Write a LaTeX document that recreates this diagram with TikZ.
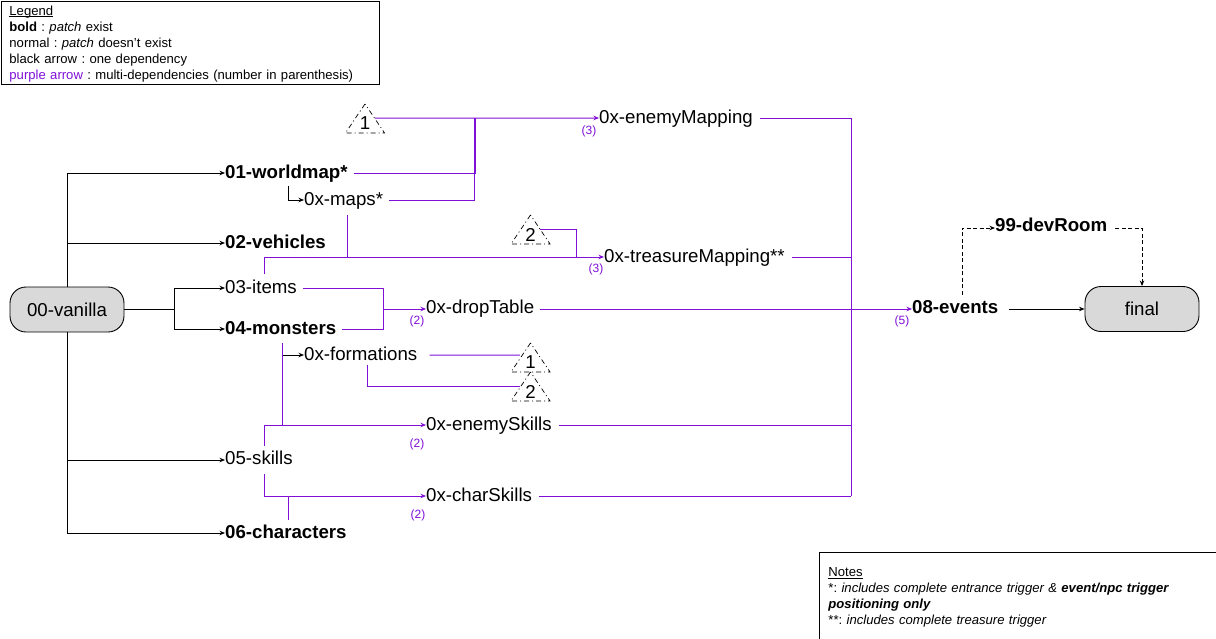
\documentclass[tikz,border=0pt]{standalone}
\usepackage{fontspec}
\setmainfont{Liberation Sans}
\usetikzlibrary{shapes.geometric,arrows.meta}
\definecolor{depcol}{HTML}{8010D8}
\definecolor{boxgray}{HTML}{D9D9D9}
\frenchspacing
\tikzset{
    step node/.style={anchor=west,inner sep=0pt,text height=15pt,text depth=5pt,font=\fontsize{18.67}{22}\selectfont},
    patch node/.style={step node,font=\fontsize{18.67}{22}\selectfont\bfseries},
    raised node/.style={text height=14pt,text depth=6pt},
    end node/.style={draw,fill=boxgray,rounded corners=16pt,minimum width=114pt,minimum height=45pt,line width=.9pt,font=\fontsize{18.67}{22}\selectfont},
    link node/.style={draw,isosceles triangle,isosceles triangle stretches,shape border rotate=90,minimum width=39pt,minimum height=29pt,inner sep=0pt,line width=.7pt,dash pattern=on 5pt off 3pt on 1pt off 3pt,font=\fontsize{18.67}{22}\selectfont},
    count node/.style={text=depcol,inner sep=0pt,font=\fontsize{12}{14}\selectfont},
    info node/.style={draw,anchor=north west,align=left,line width=.9pt,inner ysep=3pt,font=\fontsize{13.1}{16}\selectfont},
    one/.style={draw=black,line width=.9pt},
    multi/.style={draw=depcol,line width=1pt},
    opt/.style={draw=black,line width=.9pt,dash pattern=on 4pt off 2.5pt},
}
\begin{document}
\begin{tikzpicture}[x=1pt,y=-1pt,>={Stealth[length=5.5pt,width=4.5pt]}]
    \useasboundingbox (0,0) rectangle (1216,638);

    \node[info node,inner xsep=8.5pt,text width=361.5pt] (legend) at (0.5,0.5) {
        \strut\underline{\smash{Legend}}\\
        \textbf{bold} : \textit{patch} exist\\
        normal : \textit{patch} doesn't exist\\
        black arrow : one dependency\\
        \textcolor{depcol}{purple arrow} : multi-dependencies (number in parenthesis)};
    \node[info node,inner xsep=9pt,text width=400pt,minimum height=88pt] (notes) at (819,552) {
        \strut\underline{\smash{Notes}}\\
        {}*: \textit{includes complete entrance trigger \& \textbf{event/npc trigger}}\\
        \textit{\textbf{positioning only}}\\
        {}**: \textit{includes complete treasure trigger}};

    \node[end node] (vanilla) at (67,309.5) {00-vanilla};
    \node[end node] (final)   at (1142,309) {final};

    \node[patch node] (worldmap)  at (225,173) {01-worldmap*};
    \node[step node]  (maps)      at (304,200) {0x-maps*};
    \node[patch node] (vehicles)  at (225,243) {02-vehicles};
    \node[step node]  (items)     at (225,288) {03-items};
    \node[patch node] (monsters)  at (225,329) {04-monsters};
    \node[step node]  (formations) at (304,355) {0x-formations};
    \node[step node,raised node]  (skills)    at (225,460) {05-skills};
    \node[patch node] (characters) at (225,533) {06-characters};
    \node[step node,raised node]  (droptable) at (426,309) {0x-dropTable};
    \node[step node]  (enemyskills) at (426,425) {0x-enemySkills};
    \node[step node]  (charskills) at (426,496) {0x-charSkills};
    \node[step node]  (enemymap)  at (599,118) {0x-enemyMapping};
    \node[step node]  (treasure)  at (604,257) {0x-treasureMapping**};
    \node[patch node,raised node] (events)    at (912,309) {08-events};
    \node[patch node,text height=13pt,text depth=7pt] (devroom)   at (995,228) {99-devRoom};

    \node[link node] (linkA)  at (365,123.5) {1};
    \node[link node] (linkB)  at (530.5,234.5) {2};
    \node[link node] (linkC)  at (530.5,362.5) {1};
    \node[link node] (linkD)  at (530.5,391.5) {2};

    \node[count node] (cntA) at (589,131) {(3)};
    \node[count node] (cntB) at (596,269) {(3)};
    \node[count node] (cntC) at (417,321) {(2)};
    \node[count node] (cntD) at (417,444) {(2)};
    \node[count node] (cntE) at (418,515) {(2)};
    \node[count node] (cntF) at (902,321) {(5)};

    \coordinate (fork)    at (174,309.5);
    \coordinate (topA)    at (475,118);
    \coordinate (topB)    at (474,118);
    \coordinate (midA)    at (347,257);
    \coordinate (midC)    at (576,257);
    \coordinate (dropin)  at (383,309);
    \coordinate (formin)  at (282,425);
    \coordinate (formout) at (282,355);
    \coordinate (charin)  at (288,496);
    \coordinate (busB)    at (851,257);
    \coordinate (busC)    at (851,425);
    \coordinate (busD)    at (851,496);

    % single dependencies
    \path[one,->] (vanilla.north) |- (worldmap.west);
    \path[one,->] (vanilla.north) |- (vehicles.west);
    \path[one,->] (vanilla.south) |- (skills.west);
    \path[one,->] (vanilla.south) |- (characters.west);
    \path[one,->] (vanilla.east) -- (fork) |- (items.west);
    \path[one,->] (vanilla.east) -- (fork) |- (monsters.west);
    \path[one,->] ([xshift=63pt,yshift=-3pt]worldmap.south west) |- (maps.west);
    \path[one,->] (formout) -- (formations.west);
    \path[one,->] ([xshift=10pt]events.east) -- (final.west);

    % optional room
    \path[opt,->] ([xshift=50pt,yshift=4pt]events.north west) |- (devroom.west);
    \path[opt,->] ([xshift=8pt]devroom.east) -| (final.north);

    % several dependencies
    \path[multi,->] ([xshift=-3.7pt,yshift=5.5pt]linkA.east) -- (enemymap.west);
    \path[multi] ([xshift=6pt]worldmap.east) -| (topA);
    \path[multi] ([xshift=6pt]maps.east) -| (topB);
    \path[multi] ([xshift=43pt,yshift=-5pt]maps.south west) -- (midA);
    \path[multi,->] ([xshift=39pt,yshift=4pt]items.north west) |- (treasure.west);
    \path[multi] ([xshift=-3.7pt,yshift=5.5pt]linkB.east) -| (midC);
    \path[multi] ([xshift=6pt]items.east) -| (dropin);
    \path[multi] ([xshift=6pt]monsters.east) -| (dropin);
    \path[multi,->] (dropin) -- (droptable.west);
    \path[multi,->] ([xshift=6pt]droptable.east) -- (events.west);
    \path[multi] ([xshift=12pt]formations.east) -- ([xshift=3pt,yshift=7.5pt]linkC.west);
    \path[multi] ([xshift=63pt]formations.south west) |- ([xshift=3pt,yshift=5.5pt]linkD.west);
    \path[multi] ([xshift=57pt,yshift=-4pt]monsters.south west) -- (formin);
    \path[multi,->] ([xshift=39pt,yshift=4pt]skills.north west) |- (enemyskills.west);
    \path[multi,->] ([xshift=39pt,yshift=-4pt]skills.south west) |- (charskills.west);
    \path[multi] ([xshift=63pt,yshift=3pt]characters.north west) -- (charin);
    \path[multi] ([xshift=7pt]enemymap.east) -| (busD);
    \path[multi] ([xshift=7pt]treasure.east) -- (busB);
    \path[multi] ([xshift=7pt]enemyskills.east) -- (busC);
    \path[multi] ([xshift=7pt]charskills.east) -- (busD);
\end{tikzpicture}
\end{document}
